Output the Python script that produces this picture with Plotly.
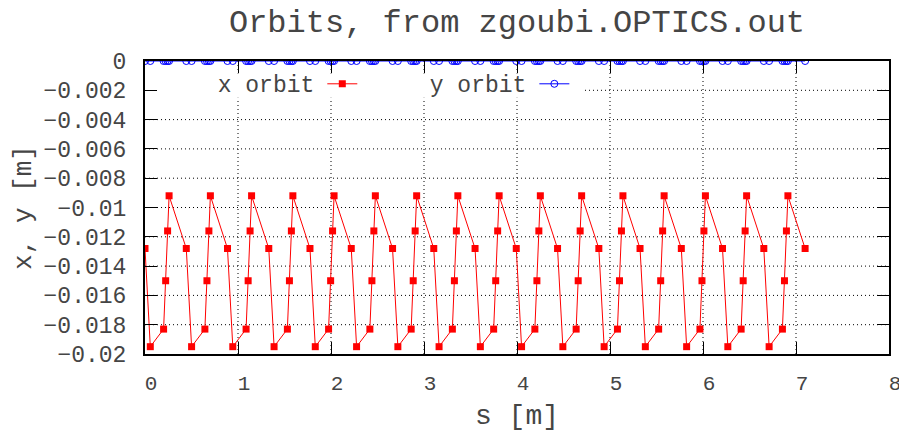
import plotly.graph_objects as go

# Path length s [m] of each orbit sample (6 samples per cell, 16 cells)
s_pos = [
    0.000, 0.057, 0.200, 0.222, 0.243, 0.259,
    0.444, 0.501, 0.644, 0.666, 0.687, 0.703,
    0.887, 0.944, 1.087, 1.109, 1.130, 1.146,
    1.331, 1.388, 1.531, 1.553, 1.574, 1.590,
    1.774, 1.831, 1.974, 1.996, 2.017, 2.033,
    2.218, 2.275, 2.418, 2.440, 2.461, 2.477,
    2.662, 2.719, 2.862, 2.884, 2.905, 2.921,
    3.105, 3.162, 3.305, 3.327, 3.348, 3.364,
    3.549, 3.606, 3.749, 3.771, 3.792, 3.808,
    3.992, 4.049, 4.192, 4.214, 4.235, 4.251,
    4.436, 4.493, 4.636, 4.658, 4.679, 4.695,
    4.880, 4.937, 5.080, 5.102, 5.123, 5.139,
    5.323, 5.380, 5.523, 5.545, 5.566, 5.582,
    5.767, 5.824, 5.967, 5.989, 6.010, 6.026,
    6.210, 6.267, 6.410, 6.432, 6.453, 6.469,
    6.654, 6.711, 6.854, 6.876, 6.897, 6.913,
    7.098,
]

# Horizontal closed orbit x [m]
x_orbit = [
    -0.0128, -0.0195, -0.0183, -0.0150, -0.0116, -0.0092,
    -0.0128, -0.0195, -0.0183, -0.0150, -0.0116, -0.0092,
    -0.0128, -0.0195, -0.0183, -0.0150, -0.0116, -0.0092,
    -0.0128, -0.0195, -0.0183, -0.0150, -0.0116, -0.0092,
    -0.0128, -0.0195, -0.0183, -0.0150, -0.0116, -0.0092,
    -0.0128, -0.0195, -0.0183, -0.0150, -0.0116, -0.0092,
    -0.0128, -0.0195, -0.0183, -0.0150, -0.0116, -0.0092,
    -0.0128, -0.0195, -0.0183, -0.0150, -0.0116, -0.0092,
    -0.0128, -0.0195, -0.0183, -0.0150, -0.0116, -0.0092,
    -0.0128, -0.0195, -0.0183, -0.0150, -0.0116, -0.0092,
    -0.0128, -0.0195, -0.0183, -0.0150, -0.0116, -0.0092,
    -0.0128, -0.0195, -0.0183, -0.0150, -0.0116, -0.0092,
    -0.0128, -0.0195, -0.0183, -0.0150, -0.0116, -0.0092,
    -0.0128, -0.0195, -0.0183, -0.0150, -0.0116, -0.0092,
    -0.0128, -0.0195, -0.0183, -0.0150, -0.0116, -0.0092,
    -0.0128, -0.0195, -0.0183, -0.0150, -0.0116, -0.0092,
    -0.0128,
]

# Vertical closed orbit y [m]
y_orbit = [
    0.0, 0.0, 0.0, 0.0, 0.0, 0.0,
    0.0, 0.0, 0.0, 0.0, 0.0, 0.0,
    0.0, 0.0, 0.0, 0.0, 0.0, 0.0,
    0.0, 0.0, 0.0, 0.0, 0.0, 0.0,
    0.0, 0.0, 0.0, 0.0, 0.0, 0.0,
    0.0, 0.0, 0.0, 0.0, 0.0, 0.0,
    0.0, 0.0, 0.0, 0.0, 0.0, 0.0,
    0.0, 0.0, 0.0, 0.0, 0.0, 0.0,
    0.0, 0.0, 0.0, 0.0, 0.0, 0.0,
    0.0, 0.0, 0.0, 0.0, 0.0, 0.0,
    0.0, 0.0, 0.0, 0.0, 0.0, 0.0,
    0.0, 0.0, 0.0, 0.0, 0.0, 0.0,
    0.0, 0.0, 0.0, 0.0, 0.0, 0.0,
    0.0, 0.0, 0.0, 0.0, 0.0, 0.0,
    0.0, 0.0, 0.0, 0.0, 0.0, 0.0,
    0.0, 0.0, 0.0, 0.0, 0.0, 0.0,
    0.0,
]

x_ticks = [0, 1, 2, 3, 4, 5, 6, 7, 8]
x_tick_labels = ["0", "1", "2", "3", "4", "5", "6", "7", "8"]
y_ticks = [0, -0.002, -0.004, -0.006, -0.008, -0.01, -0.012,
           -0.014, -0.016, -0.018, -0.02]
y_tick_labels = ["0", "\u22120.002", "\u22120.004", "\u22120.006", "\u22120.008",
                 "\u22120.01", "\u22120.012", "\u22120.014", "\u22120.016",
                 "\u22120.018", "\u22120.02"]
series_labels = ["x orbit", "y orbit"]

FONT = "Liberation Mono, Courier New, monospace"
TEXT = "#454545"
GRID = dict(color="#000000", width=1, dash="1px,3px")

fig = go.Figure()
# Each series gets its own key; the key title carries the label (drawn left
# of the sample, gnuplot style), so the item itself shows only the sample.
fig.add_trace(go.Scatter(
    x=s_pos, y=x_orbit, name="", mode="lines+markers",
    line=dict(color="#ff0000", width=1),
    marker=dict(symbol="square", size=7, color="#ff0000"),
    hovertemplate=series_labels[0] + "<br>s=%{x}<br>%{y}<extra></extra>",
    legend="legend", showlegend=True,
))
fig.add_trace(go.Scatter(
    x=s_pos, y=y_orbit, name="", mode="lines+markers",
    line=dict(color="#0000ff", width=1),
    marker=dict(symbol="circle-open", size=7, color="#0000ff",
                line=dict(width=1)),
    hovertemplate=series_labels[1] + "<br>s=%{x}<br>%{y}<extra></extra>",
    legend="legend2", showlegend=True,
))

# Dotted grid at the interior tick positions, drawn as background shapes so
# the opaque key box can sit on top of it.
grid_shapes = []
for xv in x_ticks[1:-1]:
    grid_shapes.append(dict(type="line", xref="x", yref="y domain",
                            x0=xv, x1=xv, y0=0, y1=1, line=GRID, layer="below"))
for yv in y_ticks[1:-1]:
    grid_shapes.append(dict(type="line", xref="x domain", yref="y",
                            x0=0, x1=1, y0=yv, y1=yv, line=GRID, layer="below"))
key_box = dict(type="rect", xref="x domain", yref="y domain",
               x0=0.0, x1=0.588, y0=0.875, y1=0.957,
               fillcolor="white", line=dict(width=0), layer="below")

axis_common = dict(
    showline=True, linecolor="black", linewidth=2, mirror="ticks",
    ticks="inside", ticklen=12, tickwidth=1, tickcolor="black",
    showgrid=False, zeroline=False, automargin=False,
)

key_common = dict(
    font=dict(family=FONT, size=23, color=TEXT),
    bgcolor="rgba(0,0,0,0)", orientation="h", visible=True,
    valign="middle", y=0.922, xanchor="left", yanchor="middle",
)

fig.update_layout(
    width=899, height=432,
    margin=dict(l=145, r=10, t=61, b=78, autoexpand=False),
    paper_bgcolor="white", plot_bgcolor="white",
    font=dict(family=FONT, color=TEXT),
    showlegend=True,
    title=dict(text="Orbits, from zgoubi.OPTICS.out", x=0.5, xref="paper",
               xanchor="center", y=0.953, yref="container", yanchor="middle",
               font=dict(family=FONT, size=32, color=TEXT)),
    xaxis=dict(range=[0, 8], tickvals=x_ticks, ticktext=x_tick_labels,
               tickfont=dict(family=FONT, size=21, color=TEXT),
               ticklabelshift=6, ticklabelstandoff=9,
               ticklabeloverflow="allow",
               title=dict(text="s [m]", standoff=14,
                          font=dict(family=FONT, size=28, color=TEXT)),
               **axis_common),
    yaxis=dict(range=[-0.02, 0], tickvals=y_ticks, ticktext=y_tick_labels,
               tickfont=dict(family=FONT, size=23, color=TEXT),
               ticklabelstandoff=12,
               title=dict(text="x, y [m]", standoff=4,
                          font=dict(family=FONT, size=26, color=TEXT)),
               **axis_common),
    legend=dict(title=dict(text=series_labels[0], side="left",
                           font=dict(family=FONT, size=23, color=TEXT)),
                x=0.095, **key_common),
    legend2=dict(title=dict(text=series_labels[1], side="left",
                            font=dict(family=FONT, size=23, color=TEXT)),
                 x=0.380, **key_common),
    shapes=grid_shapes + [key_box],
)

fig.write_html("out.html")
